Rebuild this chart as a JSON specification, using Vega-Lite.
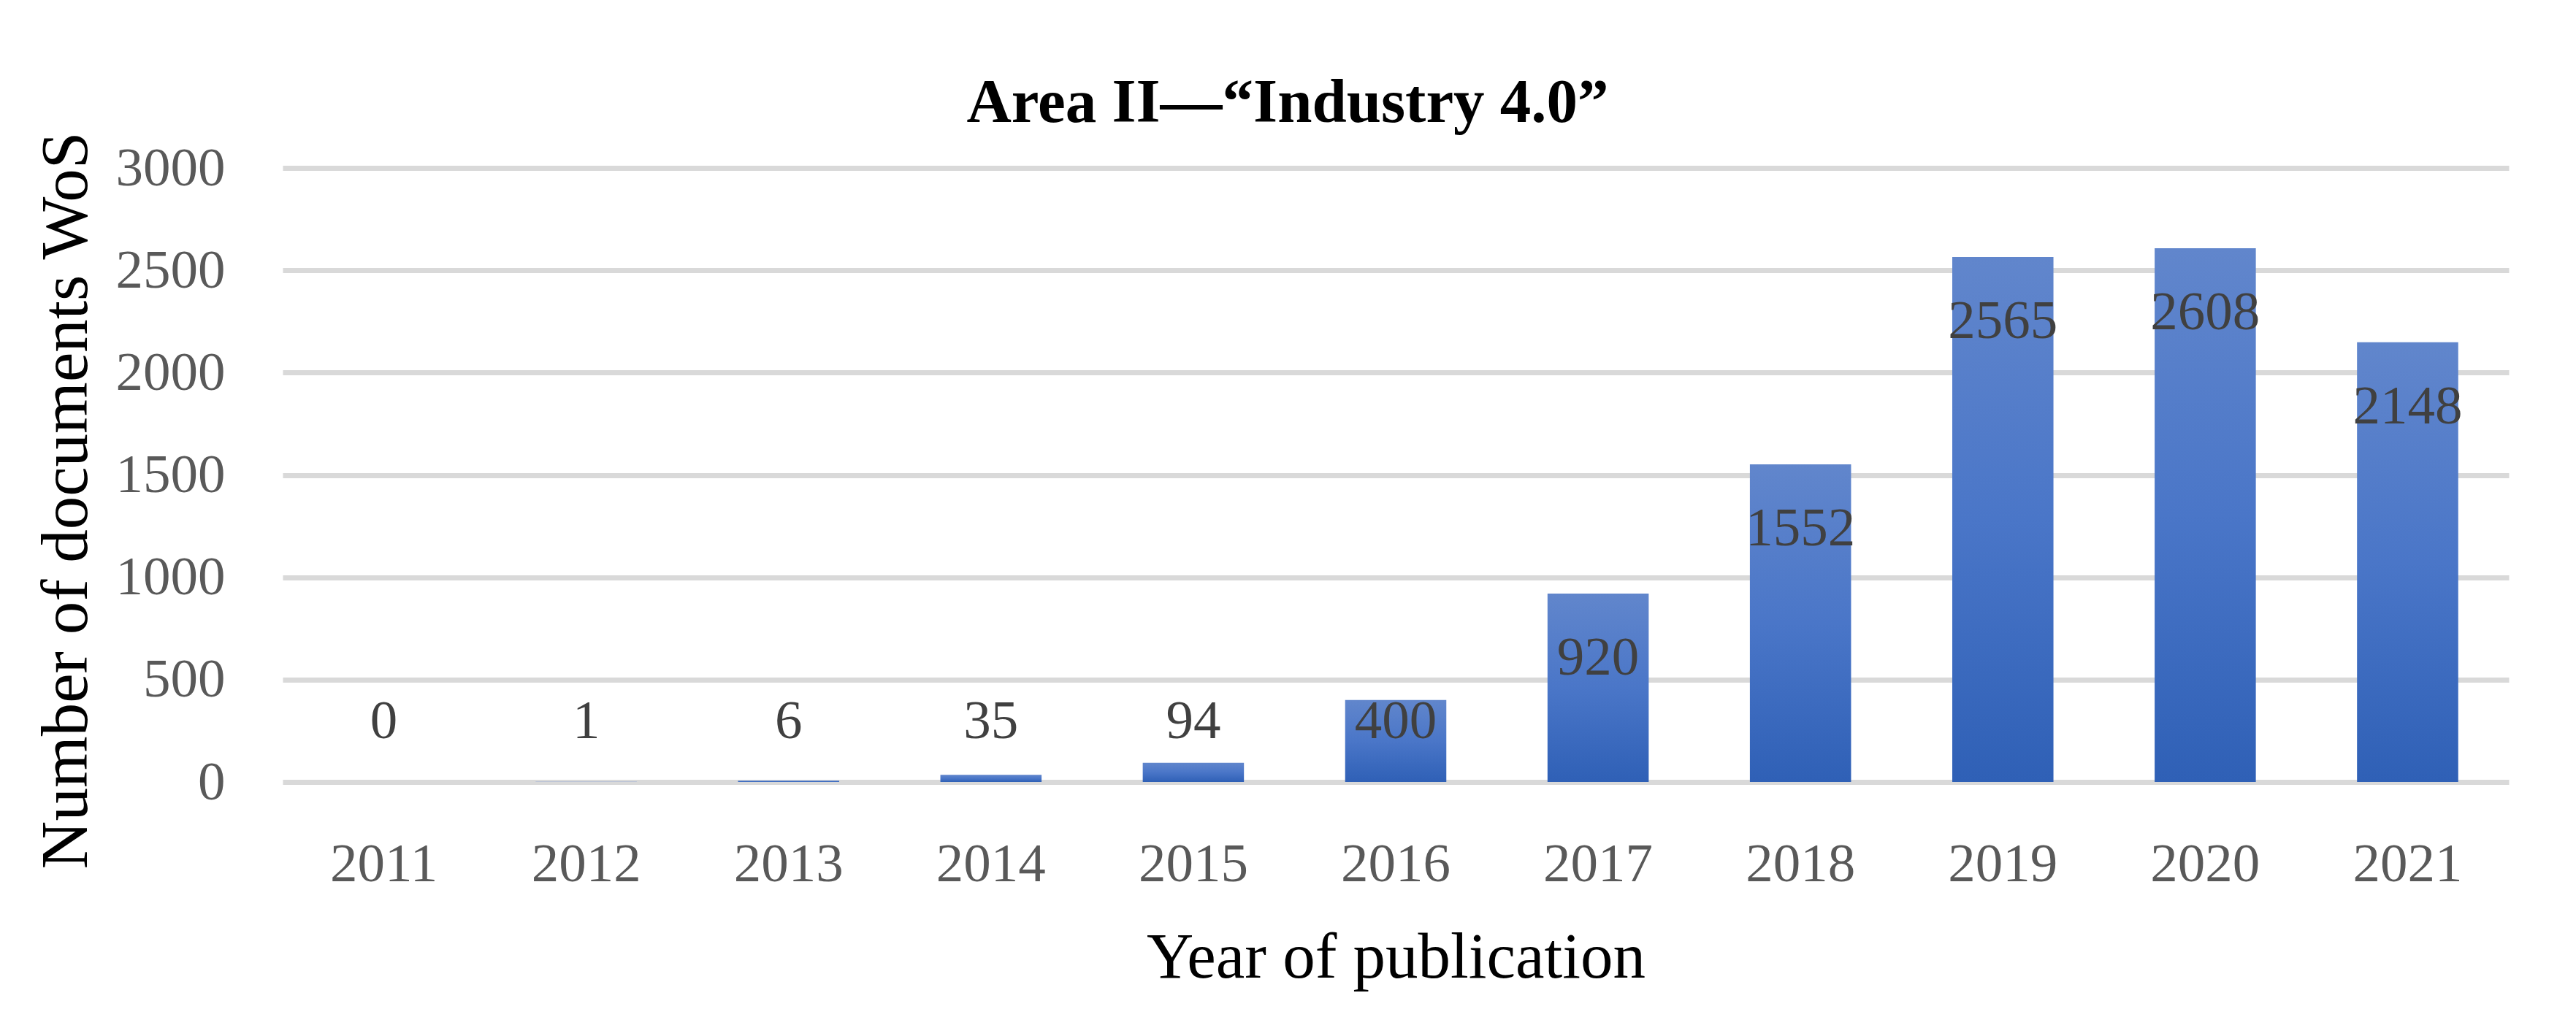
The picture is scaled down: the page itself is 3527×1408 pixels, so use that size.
{
  "$schema": "https://vega.github.io/schema/vega-lite/v6.json",
  "width": 3048,
  "height": 841,
  "autosize": {"type": "none"},
  "padding": {"left": 387, "top": 230, "right": 92, "bottom": 337},
  "background": "#ffffff",
  "config": {
    "view": {"stroke": null},
    "font": "Liberation Serif",
    "axis": {"domain": false, "ticks": false}
  },
  "title": {
    "text": "Area II—“Industry 4.0”",
    "font": "Liberation Serif",
    "fontSize": 85,
    "fontWeight": "bold",
    "color": "#000000",
    "anchor": "middle",
    "baseline": "alphabetic",
    "dx": -148,
    "offset": -73
  },
  "data": {
    "values": [
      {"year": "2011", "count": 0},
      {"year": "2012", "count": 1},
      {"year": "2013", "count": 6},
      {"year": "2014", "count": 35},
      {"year": "2015", "count": 94},
      {"year": "2016", "count": 400},
      {"year": "2017", "count": 920},
      {"year": "2018", "count": 1552},
      {"year": "2019", "count": 2565},
      {"year": "2020", "count": 2608},
      {"year": "2021", "count": 2148}
    ]
  },
  "encoding": {
    "x": {
      "field": "year",
      "type": "ordinal",
      "scale": {"paddingInner": 0.5, "paddingOuter": 0.25},
      "axis": {
        "title": "Year of publication",
        "titleFont": "Liberation Serif",
        "titleFontSize": 89,
        "titleFontWeight": "normal",
        "titleColor": "#000000",
        "titleBaseline": "alphabetic",
        "titleY": 267,
        "labelFont": "Liberation Serif",
        "labelFontSize": 75,
        "labelColor": "#595959",
        "labelAngle": 0,
        "labelBaseline": "alphabetic",
        "labelPadding": 135,
        "grid": false
      }
    }
  },
  "layer": [
    {
      "mark": {
        "type": "bar",
        "color": {
          "gradient": "linear",
          "x1": 0, "y1": 0, "x2": 0, "y2": 1,
          "stops": [
            {"offset": 0, "color": "#6186cc"},
            {"offset": 0.5, "color": "#4a76c8"},
            {"offset": 1, "color": "#2f60b6"}
          ]
        }
      },
      "encoding": {
        "y": {
          "field": "count",
          "type": "quantitative",
          "scale": {"domain": [0, 3000], "nice": false},
          "axis": {
            "values": [0, 500, 1000, 1500, 2000, 2500, 3000],
            "format": "d",
            "title": "Number of documents WoS",
            "titleFont": "Liberation Serif",
            "titleFontSize": 91,
            "titleFontWeight": "normal",
            "titleColor": "#000000",
            "titleBaseline": "alphabetic",
            "titleX": -269,
            "titleY": 455,
            "labelFont": "Liberation Serif",
            "labelFontSize": 75,
            "labelColor": "#595959",
            "labelPadding": 79,
            "grid": true,
            "gridColor": "#d9d9d9",
            "gridWidth": 7,
            "zindex": 0
          }
        }
      }
    },
    {
      "transform": [{"filter": "datum.count >= 617"}],
      "mark": {"type": "text", "font": "Liberation Serif", "fontSize": 75, "color": "#404040", "baseline": "middle", "dy": 88},
      "encoding": {
        "y": {"field": "count", "type": "quantitative"},
        "text": {"field": "count", "type": "quantitative"}
      }
    },
    {
      "transform": [{"filter": "datum.count < 617"}],
      "mark": {"type": "text", "font": "Liberation Serif", "fontSize": 75, "color": "#404040", "baseline": "middle", "dy": -83},
      "encoding": {
        "y": {"datum": 0, "type": "quantitative"},
        "text": {"field": "count", "type": "quantitative"}
      }
    }
  ]
}
